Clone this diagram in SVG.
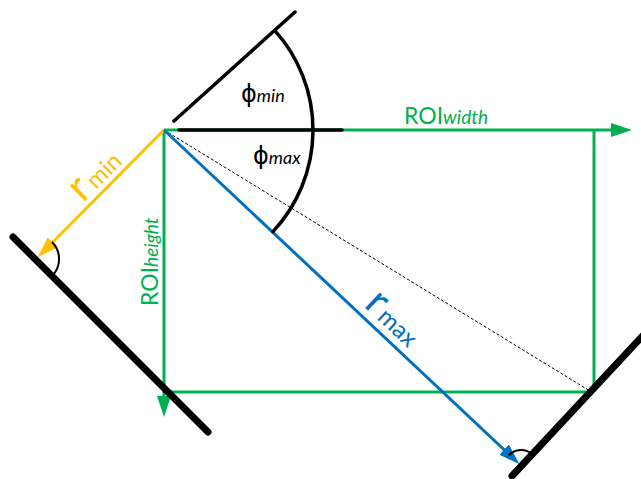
<svg xmlns="http://www.w3.org/2000/svg" width="641" height="479" viewBox="0 0 641 479">
<style>
.g{stroke:#00B050;stroke-width:3;fill:none}
.y{stroke:#FFC000;stroke-width:3;fill:none}
.b{stroke:#0070C0;stroke-width:3;fill:none}
.k{stroke:#000;stroke-width:3.5;fill:none;stroke-linecap:round}
.wall{stroke:#000;stroke-width:7;fill:none;stroke-linecap:round}
.ra{stroke:#000;stroke-width:2;fill:none}
.t{font-family:Lato,"Open Sans",sans-serif}
.sub{font-style:italic}
.phi{font-family:"DejaVu Sans",sans-serif}
</style>
<defs>
<marker id="ag" markerUnits="userSpaceOnUse" markerWidth="22" markerHeight="16" refX="15" refY="7" orient="auto"><path d="M0,0 L21,7 L0,14 z" fill="#00B050"/></marker>
<marker id="ay" markerUnits="userSpaceOnUse" markerWidth="22" markerHeight="16" refX="15" refY="7" orient="auto"><path d="M0,0 L21,7 L0,14 z" fill="#FFC000"/></marker>
<marker id="ab" markerUnits="userSpaceOnUse" markerWidth="22" markerHeight="16" refX="15" refY="7" orient="auto"><path d="M0,0 L21,7 L0,14 z" fill="#0070C0"/></marker>
</defs>
<rect width="641" height="479" fill="#fff"/>
<g id="connectors">
<line class="g" x1="164" y1="130" x2="626" y2="130" marker-end="url(#ag)"/>
<line class="g" x1="164" y1="130" x2="164" y2="411" marker-end="url(#ag)"/>
<line class="g" x1="164" y1="392" x2="594" y2="392"/>
<line class="g" x1="594" y1="130" x2="594" y2="392"/>
<line x1="164" y1="130" x2="590" y2="391" stroke="#000" stroke-width="1" stroke-dasharray="3,2"/>
<line class="y" x1="164" y1="130" x2="42" y2="253" marker-end="url(#ay)"/>
<line class="b" x1="164" y1="130" x2="515" y2="460" marker-end="url(#ab)"/>
</g>
<g id="angle">
<line class="k" x1="179" y1="130" x2="342" y2="130"/>
<line class="k" x1="174" y1="121" x2="295" y2="12"/>
<path class="k" d="M274.7,30.3 A149,149 0 0 1 273,231.6"/>
</g>
<g id="walls">
<line class="wall" x1="13" y1="237" x2="208" y2="432"/>
<line class="wall" x1="512" y1="476" x2="650" y2="328"/>
<path class="ra" d="M52,242 A24,24 0 0 1 52,276"/>
<path class="ra" d="M508.6,455.4 A17,17 0 0 1 532.5,454.5"/>
</g>
<g id="labels">
<text x="241" y="102" font-size="24"><tspan class="phi">ϕ</tspan><tspan class="t sub" font-size="18">min</tspan></text>
<text x="253" y="164" font-size="24"><tspan class="phi">ϕ</tspan><tspan class="t sub" font-size="18">max</tspan></text>
<text class="t" x="404" y="124" font-size="23" fill="#00B050">ROI<tspan class="sub" font-size="19">width</tspan></text>
<text class="t" transform="translate(158,306) rotate(-90)" font-size="23" fill="#00B050">ROI<tspan class="sub" font-size="19">height</tspan></text>
<text class="t" transform="translate(83,203) rotate(-45)" font-size="42" fill="#FFC000">r<tspan font-size="24" dx="3">min</tspan></text>
<text class="t" transform="translate(363,306) rotate(43.3)" font-size="42" fill="#0070C0">r<tspan font-size="24" dx="3">max</tspan></text>
</g>
</svg>
